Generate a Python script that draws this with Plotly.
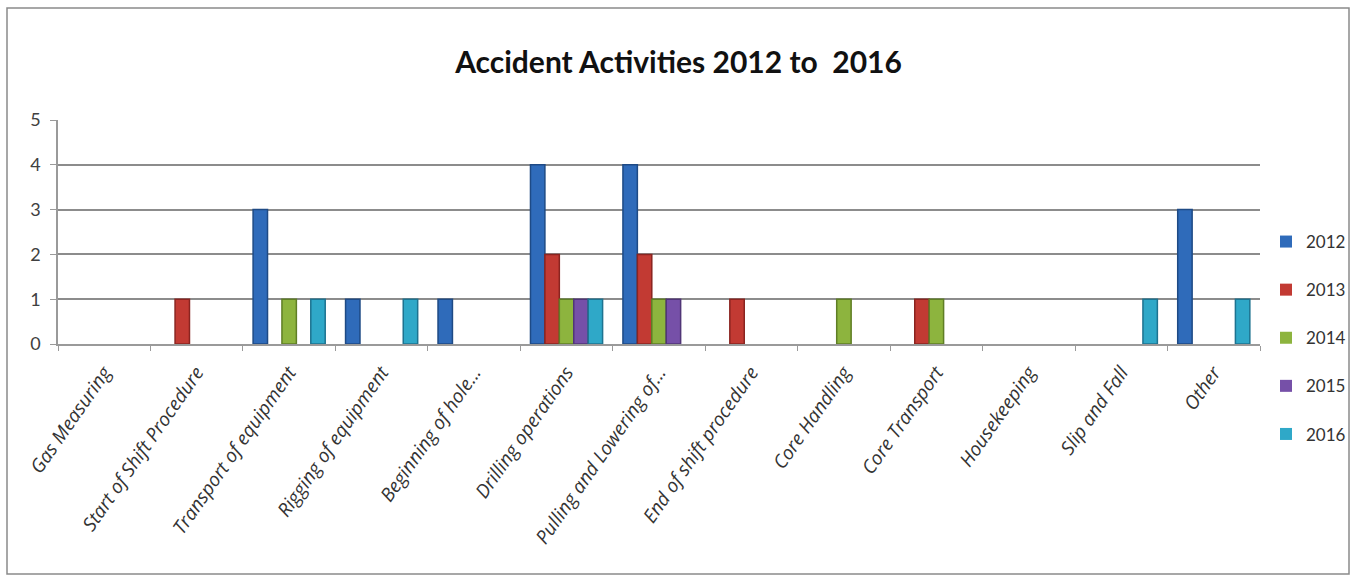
import plotly.graph_objects as go

categories = ["Gas Measuring", "Start of Shift Procedure", "Transport of equipment",
              "Rigging of equipment", "Beginning of hole...", "Drilling operations",
              "Pulling and Lowering of...", "End of shift procedure", "Core Handling",
              "Core Transport", "Housekeeping", "Slip and Fall", "Other"]
years = ["2012", "2013", "2014", "2015", "2016"]
v2012 = [0, 0, 3, 1, 1, 4, 4, 0, 0, 0, 0, 0, 3]
v2013 = [0, 1, 0, 0, 0, 2, 2, 1, 0, 1, 0, 0, 0]
v2014 = [0, 0, 1, 0, 0, 1, 1, 0, 1, 1, 0, 0, 0]
v2015 = [0, 0, 0, 0, 0, 1, 1, 0, 0, 0, 0, 0, 0]
v2016 = [0, 0, 1, 1, 0, 1, 0, 0, 0, 0, 0, 1, 1]
series = [v2012, v2013, v2014, v2015, v2016]
y_ticks = [0, 1, 2, 3, 4, 5]

fills = ["#2F6BBA", "#C23A33", "#8DB43E", "#7650A8", "#2FA8C8"]
edges = ["#1E4A85", "#8A2420", "#5F7E25", "#503577", "#1D7390"]

fig = go.Figure()
for i, (yr, vals) in enumerate(zip(years, series)):
    fig.add_trace(go.Bar(
        x=categories, y=vals, name=yr, legendgroup=yr,
        marker=dict(color=fills[i],
                    line=dict(color=edges[i], width=[1.5 if v > 0 else 0 for v in vals])),
    ))

fig.update_layout(
    width=1357, height=581,
    margin=dict(l=58, r=97, t=120, b=237, autoexpand=False),
    paper_bgcolor="white", plot_bgcolor="white",
    barmode="group", bargap=0.22, bargroupgap=0,
    title=dict(text="Accident Activities 2012 to\u00a0 2016", x=0.5, xanchor="center",
               y=1 - 62 / 581, yanchor="middle",
               font=dict(family="Lato", size=30, color="#111111", weight="bold")),
    font=dict(family="Lato", color="#404040"),
    legend=dict(xref="container", yref="container", x=1266 / 1357, xanchor="left",
                y=1 - 224 / 581, yanchor="top",
                tracegroupgap=23, font=dict(size=17, color="#333333"),
                itemwidth=30, bgcolor="rgba(0,0,0,0)", maxheight=520),
    showlegend=True,
)
fig.update_xaxes(
    type="category", showgrid=False, showline=True, linecolor="#9a9a9a", linewidth=1.5,
    ticks="outside", tickson="boundaries", ticklen=5, tickcolor="#9a9a9a",
    tickmode="array", tickvals=categories, ticktext=["<i>" + c + "</i>" for c in categories],
    tickangle=-55, ticklabelstandoff=8,
    tickfont=dict(family="Open Sans", size=19, color="#333333", style="italic"),
)
fig.update_yaxes(
    range=[0, 5], tickvals=y_ticks, showgrid=True, gridcolor="#8c8c8c", gridwidth=1.5,
    showline=True, linecolor="#9a9a9a", linewidth=1.5, ticks="outside", ticklen=6,
    tickcolor="#9a9a9a", ticklabelstandoff=6,
    tickfont=dict(family="Lato", size=18, color="#404040"),
    zeroline=False,
)
# outer chart frame
fig.add_shape(type="rect", xref="paper", yref="paper",
              x0=(7 - 58) / 1202, x1=(1349 - 58) / 1202,
              y0=(344 - 574) / 224, y1=(344 - 8) / 224,
              line=dict(color="#8a8a8a", width=1.5), fillcolor="rgba(0,0,0,0)", layer="below")

fig.write_html("out.html")
